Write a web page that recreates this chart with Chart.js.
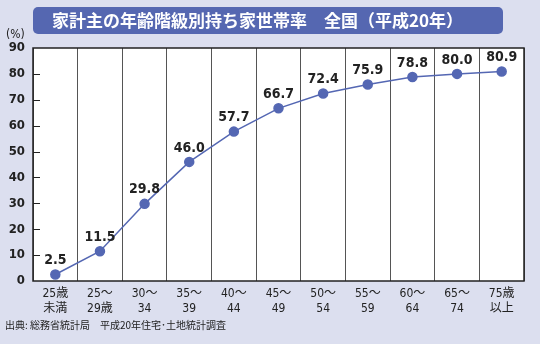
<!DOCTYPE html>
<html lang="ja">
<head>
<meta charset="UTF-8">
<title>家計主の年齢階級別持ち家世帯率</title>
<style>
  html, body { margin: 0; padding: 0; background: #dcdfef; }
  #wrap { position: relative; width: 540px; height: 344px; }
</style>
</head>
<body>
<div id="wrap"><canvas id="chart" width="540" height="344"></canvas></div>
<script src="https://cdn.jsdelivr.net/npm/chart.js"></script>
<script>
// 年齢階級と持ち家世帯率（%）
const ageGroups = [
  ['25歳', '未満'], ['25～', '29歳'], ['30～', '34'], ['35～', '39'],
  ['40～', '44'], ['45～', '49'], ['50～', '54'], ['55～', '59'],
  ['60～', '64'], ['65～', '74'], ['75歳', '以上']
];
const ownRate = [2.5, 11.5, 29.8, 46.0, 57.7, 66.7, 72.4, 75.9, 78.8, 80.0, 80.9];
const yTicks = [0, 10, 20, 30, 40, 50, 60, 70, 80, 90];

const titleText = '家計主の年齢階級別持ち家世帯率　全国（平成20年）';
const sourceText = '出典: 総務省統計局　平成20年住宅･土地統計調査';

const FONT = "'DejaVu Sans Condensed', 'Noto Sans CJK JP', sans-serif";
const BLUE = '#5467b3';

// 見出し帯・単位・出典・枠線・内向き目盛り
const decorations = {
  id: 'decorations',
  beforeDraw(chart) {
    const ctx = chart.ctx;
    ctx.save();
    ctx.fillStyle = '#dcdfef';
    ctx.fillRect(0, 0, chart.width, chart.height);
    // 見出しの帯
    ctx.fillStyle = '#5567b1';
    ctx.beginPath();
    ctx.roundRect(33, 7, 470, 27, 5);
    ctx.fill();
    ctx.fillStyle = '#ffffff';
    ctx.font = "bold 17px 'Noto Sans CJK JP', sans-serif";
    ctx.textBaseline = 'middle';
    ctx.textAlign = 'left';
    ctx.fillText(titleText, 52, 21);
    // 単位
    ctx.fillStyle = '#222';
    ctx.font = "12px " + FONT;
    ctx.fillText('(%)', 6, 35);
    // 出典
    ctx.font = "10px 'Noto Sans CJK JP', sans-serif";
    ctx.fillText(sourceText, 5, 325);
    // グラフ領域の白地
    const a = chart.chartArea;
    ctx.fillStyle = '#ffffff';
    ctx.fillRect(a.left, a.top, a.right - a.left, a.bottom - a.top);
    ctx.restore();
  },
  afterDraw(chart) {
    const ctx = chart.ctx;
    const a = chart.chartArea;
    const y = chart.scales.y;
    ctx.save();
    ctx.strokeStyle = '#222';
    ctx.lineWidth = 1;
    yTicks.forEach(v => {
      if (v === 0 || v === 90) return;
      const py = Math.round(y.getPixelForValue(v)) + 0.5;
      ctx.beginPath();
      ctx.moveTo(a.left, py);
      ctx.lineTo(a.left + 7, py);
      ctx.stroke();
    });
    ctx.lineWidth = 1.5;
    ctx.strokeRect(a.left, a.top, a.right - a.left, a.bottom - a.top);
    ctx.restore();
  },
  afterDatasetsDraw(chart) {
    // 値ラベル
    const ctx = chart.ctx;
    const meta = chart.getDatasetMeta(0);
    ctx.save();
    ctx.fillStyle = '#222';
    ctx.font = "bold 14px " + FONT;
    ctx.textAlign = 'center';
    ctx.textBaseline = 'bottom';
    meta.data.forEach((pt, i) => {
      ctx.fillText(ownRate[i].toFixed(1), pt.x, pt.y - 7);
    });
    ctx.restore();
  }
};

new Chart(document.getElementById('chart'), {
  type: 'line',
  data: {
    labels: ageGroups,
    datasets: [{
      data: ownRate,
      borderColor: BLUE,
      borderWidth: 1.5,
      pointBackgroundColor: BLUE,
      pointBorderColor: BLUE,
      pointRadius: 4.5,
      tension: 0,
      clip: false
    }]
  },
  options: {
    responsive: false,
    animation: false,
    layout: { padding: { top: 48, right: 16, left: 0, bottom: 0 } },
    plugins: {
      legend: { display: false },
      tooltip: { enabled: false }
    },
    scales: {
      x: {
        offset: true,
        grid: { offset: true, color: '#555', lineWidth: 1, drawTicks: false },
        border: { display: false },
        ticks: {
          color: '#222',
          padding: 5,
          maxRotation: 0,
          autoSkip: false,
          font: { family: FONT, size: 12, lineHeight: 1.25 }
        },
        afterFit(scale) { scale.height = 63; }
      },
      y: {
        min: 0,
        max: 90,
        afterBuildTicks(scale) { scale.ticks = yTicks.map(v => ({ value: v })); },
        grid: { display: false, drawTicks: false },
        border: { display: false },
        ticks: {
          color: '#222',
          padding: 8,
          font: { family: FONT, size: 13, weight: 'bold' }
        },
        afterFit(scale) { scale.width = 33; }
      }
    }
  },
  plugins: [decorations]
});
</script>
</body>
</html>
